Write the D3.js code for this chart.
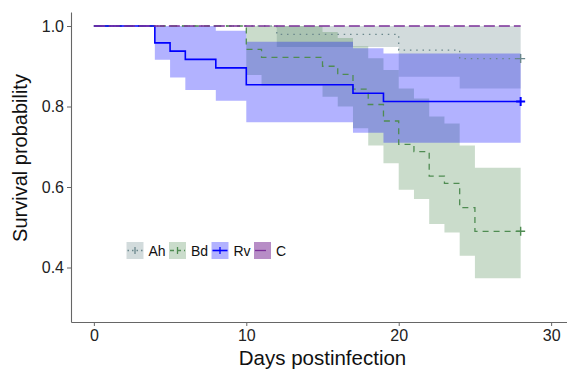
<!DOCTYPE html>
<html>
<head>
<meta charset="utf-8">
<script src="https://cdn.jsdelivr.net/npm/d3@7"></script>
<style>
  body { margin: 0; background: #fff; }
  svg { font-family: "Liberation Sans", Arial, sans-serif; display: block; }
</style>
</head>
<body>
<svg width="567" height="373"></svg>
<script>
// groups and styles
const groups = ["Ah", "Bd", "Rv", "C"];
const colors = ["#6a878c", "#4f8c52", "#0000ff", "#7b2f98"];
const dashes = ["1.5,4.8", "6,5", null, "11,4"];

// Kaplan-Meier steps
const timeAh  = [0, 12, 20, 24, 28];
const survAh  = [1, 0.979, 0.94, 0.919, 0.919];
const lowerAh = [1, 0.948, 0.874, 0.845, 0.845];
const upperAh = [1, 1, 1, 1, 1];

const timeBd  = [0, 10, 11, 15, 16, 17, 18, 19, 20, 21, 22, 23, 24, 25, 28];
const survBd  = [1, 0.942, 0.922, 0.90, 0.88, 0.843, 0.805, 0.764, 0.706, 0.688, 0.627, 0.609, 0.549, 0.49, 0.49];
const lowerBd = [1, 0.878, 0.852, 0.824, 0.80, 0.746, 0.703, 0.659, 0.593, 0.57, 0.508, 0.487, 0.429, 0.373, 0.373];
const upperBd = [1, 1, 1, 0.985, 0.97, 0.95, 0.92, 0.891, 0.845, 0.82, 0.775, 0.758, 0.703, 0.648, 0.648];

const timeRv  = [0, 4, 5, 6, 8, 10, 17, 19, 28];
const survRv  = [1, 0.958, 0.9375, 0.917, 0.896, 0.854, 0.833, 0.8125, 0.8125];
const lowerRv = [1, 0.916, 0.872, 0.841, 0.814, 0.761, 0.735, 0.71, 0.71];
const upperRv = [1, 1, 1, 1, 0.988, 0.961, 0.945, 0.932, 0.932];

const timeC  = [0, 28];
const survC  = [1, 1];
const lowerC = [1, 1];
const upperC = [1, 1];

const xTicks = [0, 10, 20, 30];
const yTicks = [0.4, 0.6, 0.8, 1.0];

const curves = [
  { time: timeAh, surv: survAh, lower: lowerAh, upper: upperAh },
  { time: timeBd, surv: survBd, lower: lowerBd, upper: upperBd },
  { time: timeRv, surv: survRv, lower: lowerRv, upper: upperRv },
  { time: timeC,  surv: survC,  lower: lowerC,  upper: upperC }
];

const width = 567, height = 373;
const margin = { top: 12, right: 0, bottom: 51, left: 71 };
const innerHeight = height - margin.top - margin.bottom;

const svg = d3.select("svg");
const g = svg.append("g").attr("transform", `translate(${margin.left},${margin.top})`);

const x = d3.scaleLinear().domain([-1.5, 31.5]).range([0, 503]);
const y = d3.scaleLinear().domain([0.2646, 1.0348]).range([innerHeight, 0]);

const pts = c => c.time.map((t, i) => ({ t, s: c.surv[i], lo: c.lower[i], hi: c.upper[i] }));

const area = d3.area()
  .curve(d3.curveStepAfter)
  .x(d => x(d.t))
  .y0(d => y(d.lo))
  .y1(d => y(d.hi));

const line = d3.line()
  .curve(d3.curveStepAfter)
  .x(d => x(d.t))
  .y(d => y(d.s));

// confidence bands
curves.forEach((c, i) => {
  g.append("path")
    .datum(pts(c))
    .attr("fill", colors[i])
    .attr("fill-opacity", 0.3)
    .attr("stroke", "none")
    .attr("d", area);
});

// survival lines
curves.forEach((c, i) => {
  g.append("path")
    .datum(pts(c))
    .attr("fill", "none")
    .attr("stroke", colors[i])
    .attr("stroke-width", i === 2 ? 1.6 : 1.3)
    .attr("stroke-dasharray", dashes[i])
    .attr("d", line);
});

// censor marks at the end (none visible for C)
curves.slice(0, 3).forEach((c, i) => {
  const n = c.time.length - 1;
  const cx = x(c.time[n]), cy = y(c.surv[n]);
  g.append("path")
    .attr("d", `M${cx - 4.5},${cy}H${cx + 4.5}M${cx},${cy - 4.5}V${cy + 4.5}`)
    .attr("stroke", colors[i])
    .attr("stroke-width", i === 2 ? 2 : 1.4);
});

// axes
const xAxis = g.append("g")
  .attr("transform", `translate(0,${innerHeight})`)
  .call(d3.axisBottom(x).tickValues(xTicks).tickSize(4).tickSizeOuter(0).tickPadding(4));

const yAxis = g.append("g")
  .call(d3.axisLeft(y).tickValues(yTicks).tickFormat(d3.format(".1f")).tickSize(4).tickSizeOuter(0).tickPadding(3));

[xAxis, yAxis].forEach(a => {
  a.select(".domain").attr("stroke", "#666").attr("stroke-width", 1.1);
  a.selectAll(".tick line").attr("stroke", "#666");
  a.selectAll(".tick text").attr("fill", "#222").style("font-size", "16px");
});

svg.append("text")
  .attr("x", margin.left + x(15))
  .attr("y", 365)
  .attr("text-anchor", "middle")
  .style("font-size", "20.5px")
  .attr("fill", "#111")
  .text("Days postinfection");

svg.append("text")
  .attr("transform", `translate(27,158) rotate(-90)`)
  .attr("text-anchor", "middle")
  .style("font-size", "20px")
  .attr("fill", "#111")
  .text("Survival probability");

// legend
const legend = svg.append("g").attr("transform", "translate(126.5,242)");
groups.forEach((name, i) => {
  const k = legend.append("g").attr("transform", `translate(${i * 42.5},0)`);
  k.append("rect")
    .attr("width", 17).attr("height", 17)
    .attr("fill", colors[i])
    .attr("fill-opacity", i === 3 ? 0.55 : 0.3);
  k.append("line")
    .attr("x1", 1).attr("x2", 16).attr("y1", 8.5).attr("y2", 8.5)
    .attr("stroke", colors[i])
    .attr("stroke-width", i === 2 ? 1.6 : 1.3)
    .attr("stroke-dasharray", i === 0 ? "1.5,3" : i === 1 ? "4,3" : i === 3 ? "11,4" : null);
  if (i < 3) {
    k.append("line")
      .attr("x1", 8.5).attr("x2", 8.5).attr("y1", 5).attr("y2", 12)
      .attr("stroke", colors[i])
      .attr("stroke-width", 1.3);
  }
  k.append("text")
    .attr("x", 22)
    .attr("y", 14)
    .style("font-size", "14px")
    .attr("fill", "#111")
    .text(name);
});
</script>
</body>
</html>
